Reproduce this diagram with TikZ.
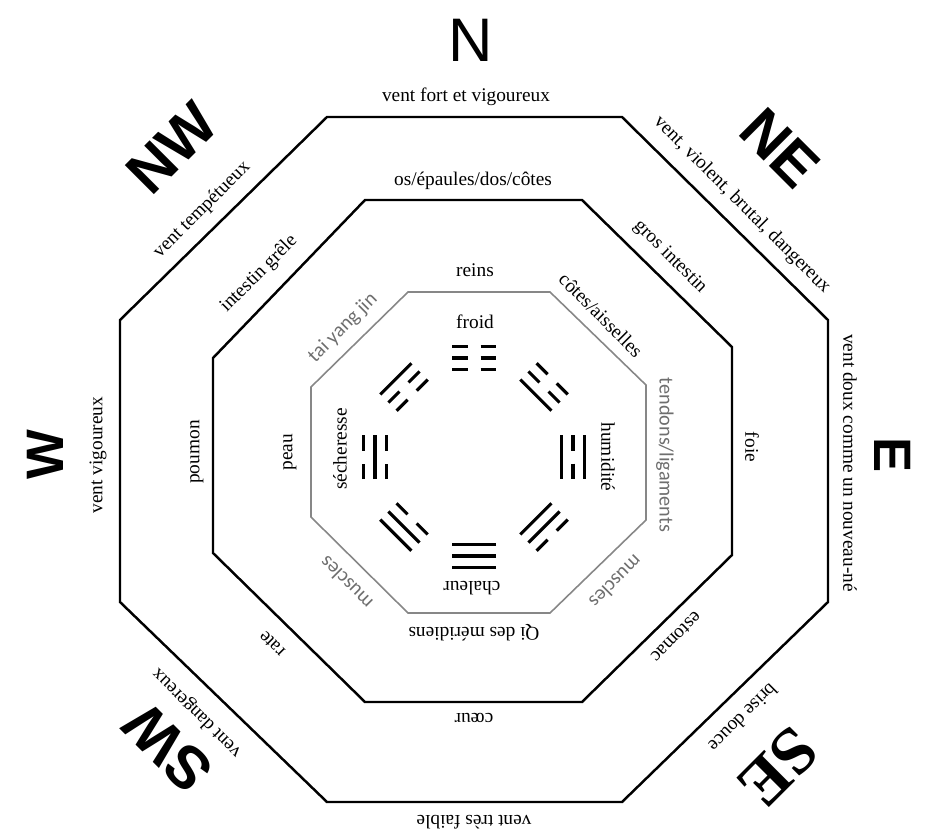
\documentclass[tikz,border=0pt]{standalone}
\usepackage{fontspec}
\setmainfont{Liberation Serif}
\newfontfamily\windfont{Liberation Sans}
\newfontfamily\grayfont{Carlito}
\definecolor{ringgray}{RGB}{135,135,135}
\definecolor{labelgray}{RGB}{110,110,110}
\tikzset{
  lbl/.style={font=\fontsize{11}{13}\selectfont, inner sep=1pt},
  glbl/.style={font=\grayfont\fontsize{11.5}{13}\selectfont, text=labelgray, inner sep=1pt},
  wind/.style={font=\windfont\fontsize{35}{37}\selectfont, inner sep=0pt},
  windb/.style={font=\windfont\bfseries\fontsize{34}{36}\selectfont, inner sep=0pt},
  winds/.style={font=\bfseries\fontsize{38}{40}\selectfont, inner sep=0pt},
  ring/.style={line width=1.4pt},
  inring/.style={line width=0.9pt, draw=ringgray},
  yao/.style={line width=1.8pt}
}
% one line of a trigram: 1 = solid, 0 = broken
\newcommand{\yao}[2]{%
  \ifnum#2=1
    \draw[yao] (-22,#1) -- (22,#1);
  \else
    \draw[yao] (-22,#1) -- (-6.5,#1) (6.5,#1) -- (22,#1);
  \fi}
\begin{document}
\begin{tikzpicture}[x=0.02cm, y=0.02cm]
 \useasboundingbox (-474,-376) rectangle (451,457);
 % octagons
 \draw[ring] (-147,340) -- (148,340) -- (354,137) -- (354,-145) -- (148,-345) -- (-147,-345) -- (-354,-145) -- (-354,137) -- cycle;
 \draw[ring] (-109,257) -- (108,257) -- (258,110) -- (258,-98) -- (108,-245) -- (-109,-245) -- (-261,-96) -- (-261,99) -- cycle;
 \draw[inring] (-66,165) -- (76,165) -- (172,72) -- (172,-63) -- (76,-156) -- (-66,-156) -- (-163,-60) -- (-163,70) -- cycle;
 % directions
 \node[wind] (dirN) at (-3,417) {N};
 \node[windb, rotate=-45] (dirNE) at (306,309) {NE};
 \node[windb, rotate=-90, font=\windfont\bfseries\fontsize{30}{32}\selectfont] (dirE) at (419,2) {E};
 \node[winds, rotate=-135] (dirSE) at (304,-311) {SE};
 \node[windb, rotate=135] (dirSW) at (-306,-291) {SW};
 \node[windb, rotate=90, font=\windfont\bfseries\fontsize{30}{32}\selectfont] (dirW) at (-429,2) {W};
 \node[windb, rotate=45] (dirNW) at (-302,309) {NW};
 % outer ring
 \node[lbl] (ventN) at (-8,360) {vent fort et vigoureux};
 \node[lbl, rotate=-45] (ventNE) at (268,252) {vent, violent, brutal, dangereux};
 \node[lbl, rotate=-90] (ventE) at (376,-6) {vent doux comme un nouveau-né};
 \node[lbl, rotate=-135] (ventSE) at (269,-261) {brise douce};
 \node[lbl, rotate=180] (ventS) at (0,-365) {vent très faible};
 \node[lbl, rotate=135] (ventSW) at (-277,-256) {vent dangereux};
 \node[lbl, rotate=90] (ventW) at (-376,2) {vent vigoureux};
 \node[lbl, rotate=45] (ventNW) at (-272,247) {vent tempétueux};
 % middle ring
 \node[lbl] (osN) at (-1,276) {os/épaules/dos/côtes};
 \node[lbl, rotate=-45] (grosNE) at (196,200) {gros intestin};
 \node[lbl, rotate=-90] (foieE) at (278,10) {foie};
 \node[lbl, rotate=-135] (estomacSE) at (202,-180) {estomac};
 \node[lbl, rotate=180] (coeurS) at (0,-261) {cœur};
 \node[lbl, rotate=135] (rateSW) at (-202,-187) {rate};
 \node[lbl, rotate=90] (poumonW) at (-277,5) {poumon};
 \node[lbl, rotate=45] (intestinNW) at (-215,183) {intestin grêle};
 % inner ring
 \node[lbl] (reinsN) at (1,187) {reins};
 \node[lbl, rotate=-45] (cotesNE) at (127,142) {côtes/aisselles};
 \node[glbl, rotate=-90] (tendonsE) at (191,2) {tendons/ligaments};
 \node[glbl, rotate=-135] (musclesSE) at (142,-125) {muscles};
 \node[lbl, rotate=180] (qiS) at (0,-176) {Qi des méridiens};
 \node[glbl, rotate=135] (musclesSW) at (-128,-126) {muscles};
 \node[lbl, rotate=90] (peauW) at (-184,5) {peau};
 \node[glbl, rotate=45] (taiNW) at (-131,129) {tai yang jin};
 % centre
 \node[lbl] (froidN) at (1,135) {froid};
 \node[lbl, rotate=180] (chaleurS) at (-2,-131) {chaleur};
 \node[lbl, rotate=90] (secheW) at (-134,8) {sécheresse};
 \node[lbl, rotate=-90] (humidE) at (134,0) {humidité};
 % trigrams, outer line first
 \foreach \ang/\ya/\yb/\yc in {90/0/0/0, 45/0/0/1, 0/1/0/1, -45/0/1/1, -90/1/1/1, -135/1/1/0, 180/0/1/0, 135/1/0/0} {
  \begin{scope}[shift={(\ang:99)}, rotate=\ang-90]
   \yao{11.5}{\ya} \yao{0}{\yb} \yao{-11.5}{\yc}
  \end{scope}
 }
\end{tikzpicture}
\end{document}
